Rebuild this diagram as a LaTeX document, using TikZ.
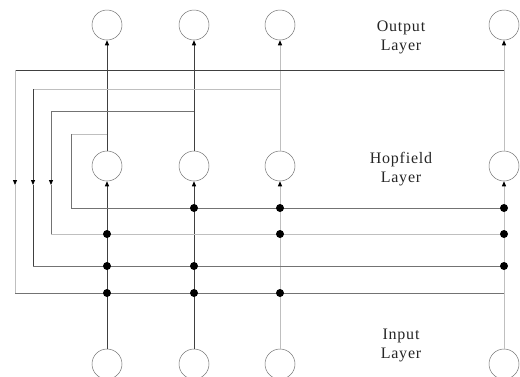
\documentclass[tikz,border=0pt]{standalone}
\usepackage{fontspec}
\setmainfont{Liberation Serif}
\newfontfamily\labelfont[LetterSpace=5]{Liberation Serif}
\usetikzlibrary{arrows.meta}
\definecolor{dk}{gray}{0.25}
\definecolor{md}{gray}{0.45}
\definecolor{lt}{gray}{0.75}
\tikzset{
  unit/.style={circle, draw=black!55, line width=0.5pt, minimum size=30pt, inner sep=0pt},
  feed/.style={line width=0.8pt},
  tip/.tip={Triangle[length=5pt,width=4pt,color=black]},
  up/.style={feed, -tip},
  junction/.style={circle, fill=black, inner sep=0pt, minimum size=8pt},
  layerlabel/.style={font=\labelfont\fontsize{16}{19}\selectfont, align=center, inner sep=0pt, text=black!85}
}
\begin{document}
\begin{tikzpicture}[x=1pt, y=-1pt]
\useasboundingbox (0,0) rectangle (520,376);
\clip (0,0) rectangle (520,376);

% neurons: output, Hopfield and input layers
\foreach \i/\x in {1/107,2/194,3/280,4/504} {
  \node[unit] (out\i) at (\x,25) {};
  \node[unit] (hop\i) at (\x,166) {};
  \node[unit] (in\i) at (\x,364) {};
}

% layer labels
\node[layerlabel] (lblout) at (401,37) {Output\\Layer};
\node[layerlabel] (lblhop) at (401,169) {Hopfield\\Layer};
\node[layerlabel] (lblin) at (401,345) {Input\\Layer};

% feed-forward connections
\draw[up, dk] (in1.north) -- (hop1.south);
\draw[up, dk] (in2.north) -- (hop2.south);
\draw[up, lt] (in3.north) -- (hop3.south);
\draw[up, lt] (in4.north) -- (hop4.south);
\draw[up, dk] (hop1.north) -- (out1.south);
\draw[up, dk] (hop2.north) -- (out2.south);
\draw[up, lt] (hop3.north) -- (out3.south);
\draw[up, lt] (hop4.north) -- (out4.south);

% feedback loop corners and taps
\coordinate (a0) at (504,70);  \coordinate (a1) at (15,70);
\coordinate (am) at (15,185);  \coordinate (a2) at (15,293);  \coordinate (a3) at (504,293);
\coordinate (b0) at (280,89);  \coordinate (b1) at (33,89);
\coordinate (bm) at (33,185);  \coordinate (b2) at (33,266);  \coordinate (b3) at (504,266);
\coordinate (c0) at (194,111); \coordinate (c1) at (51,111);
\coordinate (cm) at (51,185);  \coordinate (c2) at (51,234);  \coordinate (c3) at (504,234);
\coordinate (d0) at (107,134); \coordinate (d1) at (71,134);
\coordinate (d2) at (71,208);  \coordinate (d3) at (504,208);

% feedback loops
\draw[feed, dk] (a0) -- (a1);
\draw[feed, lt, -tip] (a1) -- (am);
\draw[feed, lt] (am) -- (a2);
\draw[feed, md] (a2) -- (a3);

\draw[feed, lt] (b0) -- (b1);
\draw[feed, dk, -tip] (b1) -- (bm);
\draw[feed, dk] (bm) -- (b2);
\draw[feed, md] (b2) -- (b3);

\draw[feed, md] (c0) -- (c1);
\draw[feed, md, -tip] (c1) -- (cm);
\draw[feed, md] (cm) -- (c2);
\draw[feed, lt] (c2) -- (c3);

\draw[feed, lt] (d0) -- (d1);
\draw[feed, md] (d1) -- (d2);
\draw[feed, md] (d2) -- (d3);

% junctions
\foreach \x/\y in {194/208,280/208,504/208,
                   107/234,280/234,504/234,
                   107/266,194/266,504/266,
                   107/293,194/293,280/293}
  \node[junction] at (\x,\y) {};
\end{tikzpicture}
\end{document}
